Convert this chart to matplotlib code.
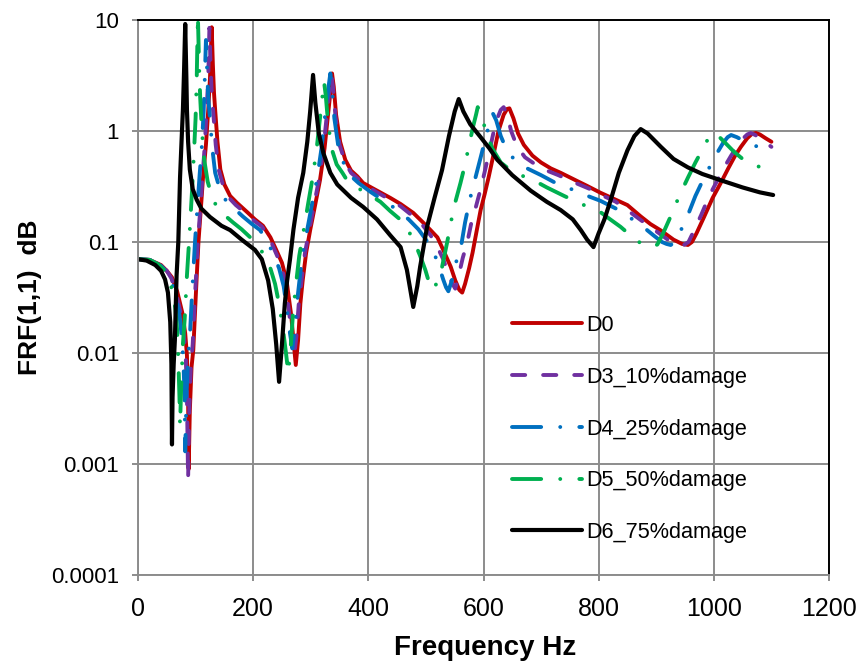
import matplotlib
matplotlib.use('Agg')
import matplotlib.pyplot as plt
from matplotlib.ticker import NullLocator

# (frequency Hz, FRF) pairs
d0 = [(0, 0.070), (20, 0.069), (40, 0.062), (50, 0.055), (59, 0.048), (68, 0.036), (77, 0.023), (82, 0.015),
      (85, 0.0095), (87, 0.004), (88, 0.0009), (90, 0.003), (93, 0.0075), (96, 0.0106), (100, 0.03), (105, 0.1),
      (110, 0.23), (113, 0.385), (118, 0.75), (122, 1.55), (125, 3.0), (128, 8.6), (130, 4.0), (132, 2.2),
      (134, 1.55), (138, 0.8), (143, 0.45), (150, 0.33), (160, 0.26), (172, 0.225), (190, 0.185), (203, 0.16),
      (217, 0.14), (230, 0.11), (240, 0.085), (250, 0.065), (258, 0.045), (266, 0.022), (270, 0.013),
      (274, 0.0078), (278, 0.013), (282, 0.028), (286, 0.045), (292, 0.08), (299, 0.128), (308, 0.22),
      (316, 0.36), (324, 0.7), (330, 1.4), (334, 2.2), (337, 3.3), (340, 2.5), (344, 1.4), (351, 0.8),
      (360, 0.55), (370, 0.44), (381, 0.39), (391, 0.34), (410, 0.3), (438, 0.25), (456, 0.22), (478, 0.183),
      (495, 0.15), (508, 0.128), (520, 0.11), (530, 0.085), (543, 0.06), (551, 0.045), (558, 0.037),
      (563, 0.035), (568, 0.042), (575, 0.058), (581, 0.08), (588, 0.125), (595, 0.194), (602, 0.27),
      (609, 0.385), (617, 0.6), (626, 1.0), (635, 1.4), (641, 1.58), (645, 1.6), (652, 1.3), (660, 0.95),
      (670, 0.75), (685, 0.6), (700, 0.52), (717, 0.46), (734, 0.42), (760, 0.36), (780, 0.32), (803, 0.278),
      (830, 0.24), (850, 0.215), (873, 0.17), (890, 0.145), (908, 0.127), (930, 0.105), (945, 0.096),
      (955, 0.094), (962, 0.1), (970, 0.12), (983, 0.168), (998, 0.25), (1012, 0.34), (1025, 0.46),
      (1037, 0.6), (1047, 0.72), (1058, 0.86), (1066, 0.94), (1073, 0.96), (1080, 0.93), (1090, 0.86),
      (1100, 0.8)]

d3 = [(0, 0.070), (20, 0.069), (40, 0.062), (50, 0.055), (58, 0.047), (66, 0.035), (75, 0.022), (80, 0.014),
      (83, 0.009), (85, 0.004), (87, 0.00072), (89, 0.003), (92, 0.008), (95, 0.012), (99, 0.033), (104, 0.1),
      (109, 0.23), (112, 0.385), (116, 0.75), (119, 1.5), (122, 3.0), (124, 8.5), (126, 4.0), (128, 2.2),
      (131, 1.4), (135, 0.75), (140, 0.45), (148, 0.32), (158, 0.25), (170, 0.215), (188, 0.18), (202, 0.155),
      (215, 0.138), (228, 0.11), (238, 0.083), (248, 0.063), (256, 0.043), (263, 0.022), (267, 0.013),
      (271, 0.0092), (275, 0.014), (279, 0.027), (284, 0.045), (290, 0.08), (297, 0.125), (306, 0.22),
      (314, 0.36), (322, 0.7), (328, 1.4), (332, 2.2), (336, 3.2), (339, 2.4), (343, 1.35), (350, 0.75),
      (360, 0.52), (370, 0.42), (385, 0.36), (410, 0.29), (438, 0.24), (456, 0.21), (478, 0.17), (495, 0.14),
      (508, 0.115), (520, 0.09), (530, 0.07), (540, 0.05), (546, 0.042), (551, 0.038), (557, 0.05),
      (564, 0.072), (572, 0.1), (579, 0.15), (586, 0.2), (595, 0.3), (603, 0.45), (610, 0.65), (617, 0.95),
      (624, 1.3), (630, 1.55), (635, 1.64), (641, 1.4), (648, 1.0), (658, 0.73), (672, 0.58), (690, 0.5),
      (710, 0.44), (730, 0.4), (760, 0.34), (785, 0.3), (803, 0.268), (830, 0.23), (855, 0.185), (875, 0.155),
      (900, 0.125), (920, 0.105), (935, 0.097), (948, 0.094), (956, 0.1), (965, 0.125), (978, 0.175),
      (992, 0.26), (1005, 0.35), (1018, 0.47), (1030, 0.6), (1040, 0.72), (1050, 0.85), (1058, 0.93),
      (1064, 0.96), (1072, 0.92), (1085, 0.82), (1100, 0.72)]

d4 = [(0, 0.070), (20, 0.069), (40, 0.061), (50, 0.054), (58, 0.045), (65, 0.034), (72, 0.022), (76, 0.014),
      (79, 0.008), (81, 0.004), (82, 0.0013), (84, 0.004), (87, 0.009), (90, 0.014), (94, 0.035), (99, 0.1),
      (104, 0.24), (107, 0.4), (111, 0.75), (114, 1.5), (116, 3.0), (118, 6.6), (120, 3.5), (122, 2.0),
      (125, 1.3), (129, 0.7), (134, 0.42), (142, 0.3), (152, 0.24), (165, 0.205), (182, 0.17), (198, 0.145),
      (212, 0.128), (225, 0.1), (235, 0.078), (245, 0.058), (253, 0.04), (260, 0.022), (264, 0.015),
      (268, 0.011), (272, 0.016), (276, 0.028), (281, 0.048), (287, 0.085), (294, 0.13), (303, 0.23),
      (311, 0.37), (319, 0.72), (325, 1.4), (330, 2.3), (334, 3.3), (337, 2.4), (341, 1.3), (348, 0.72),
      (358, 0.5), (368, 0.4), (383, 0.34), (405, 0.28), (430, 0.23), (450, 0.195), (470, 0.16), (487, 0.13),
      (500, 0.105), (512, 0.085), (522, 0.062), (530, 0.046), (535, 0.039), (539, 0.036), (545, 0.045),
      (552, 0.065), (560, 0.085), (568, 0.15), (577, 0.25), (586, 0.38), (594, 0.55), (602, 0.8), (609, 1.1),
      (616, 1.45), (622, 1.25), (630, 0.9), (640, 0.68), (655, 0.54), (676, 0.46), (700, 0.4), (730, 0.33),
      (760, 0.29), (785, 0.255), (803, 0.235), (830, 0.2), (855, 0.165), (875, 0.14), (895, 0.115),
      (910, 0.1), (918, 0.096), (925, 0.094), (933, 0.1), (942, 0.125), (955, 0.175), (968, 0.26),
      (982, 0.37), (995, 0.5), (1007, 0.65), (1016, 0.78), (1024, 0.88), (1030, 0.92), (1040, 0.88),
      (1055, 0.8), (1070, 0.74), (1085, 0.7), (1100, 0.65)]

d5 = [(0, 0.070), (20, 0.069), (35, 0.063), (45, 0.056), (53, 0.047), (60, 0.036), (65, 0.025), (68, 0.016),
      (70, 0.009), (72, 0.004), (73, 0.0022), (75, 0.005), (78, 0.012), (81, 0.02), (85, 0.05), (90, 0.13),
      (94, 0.3), (97, 0.6), (100, 1.3), (102, 3.0), (104, 11.0), (106, 4.0), (108, 2.0), (111, 1.0),
      (115, 0.55), (121, 0.35), (130, 0.24), (142, 0.19), (154, 0.168), (165, 0.15), (180, 0.13), (195, 0.11),
      (210, 0.09), (220, 0.075), (229, 0.06), (238, 0.042), (246, 0.026), (252, 0.016), (257, 0.01),
      (261, 0.0066), (265, 0.011), (269, 0.022), (274, 0.04), (280, 0.075), (288, 0.13), (296, 0.23),
      (304, 0.4), (311, 0.75), (316, 1.3), (320, 2.0), (323, 2.8), (326, 2.1), (330, 1.2), (336, 0.7),
      (345, 0.5), (355, 0.42), (363, 0.36), (380, 0.31), (400, 0.27), (421, 0.23), (438, 0.19), (455, 0.16),
      (467, 0.134), (480, 0.1), (490, 0.075), (499, 0.056), (505, 0.044), (511, 0.037), (516, 0.04),
      (525, 0.05), (537, 0.1), (548, 0.2), (560, 0.34), (568, 0.5), (575, 0.75), (582, 1.1), (587, 1.4),
      (590, 1.64), (596, 1.4), (604, 1.0), (615, 0.7), (630, 0.52), (650, 0.43), (670, 0.39), (687, 0.36),
      (710, 0.31), (740, 0.26), (770, 0.22), (803, 0.186), (820, 0.16), (838, 0.137), (855, 0.115),
      (870, 0.1), (882, 0.093), (894, 0.09), (902, 0.095), (912, 0.12), (925, 0.17), (940, 0.26), (955, 0.38),
      (968, 0.52), (980, 0.68), (990, 0.85), (998, 0.96), (1008, 0.9), (1020, 0.78), (1035, 0.65),
      (1050, 0.56), (1073, 0.49), (1090, 0.45), (1100, 0.43)]

d6 = [(0, 0.070), (15, 0.068), (30, 0.062), (40, 0.055), (47, 0.046), (52, 0.035), (56, 0.019), (58, 0.008),
      (59, 0.0015), (60, 0.004), (62, 0.008), (64, 0.013), (67, 0.05), (70, 0.1), (73, 0.38), (76, 0.9),
      (78, 1.55), (80, 3.5), (82, 9.2), (84, 3.0), (85, 1.55), (87, 0.8), (90, 0.45), (95, 0.3), (102, 0.24),
      (110, 0.2), (125, 0.168), (145, 0.14), (160, 0.128), (180, 0.105), (203, 0.085), (215, 0.07),
      (226, 0.045), (234, 0.025), (240, 0.012), (245, 0.0055), (250, 0.012), (255, 0.028), (259, 0.045),
      (264, 0.07), (270, 0.13), (278, 0.25), (287, 0.42), (294, 0.8), (299, 1.5), (304, 3.2), (308, 1.8),
      (314, 0.95), (322, 0.63), (334, 0.42), (346, 0.33), (370, 0.25), (391, 0.207), (415, 0.16),
      (438, 0.115), (456, 0.09), (467, 0.056), (478, 0.026), (485, 0.04), (490, 0.06), (502, 0.137),
      (515, 0.25), (528, 0.445), (540, 0.9), (550, 1.5), (557, 1.94), (565, 1.5), (577, 1.15), (595, 0.88),
      (610, 0.7), (624, 0.55), (650, 0.4), (682, 0.29), (710, 0.23), (734, 0.194), (755, 0.16), (769, 0.128),
      (780, 0.105), (791, 0.09), (800, 0.12), (810, 0.16), (821, 0.24), (835, 0.42), (850, 0.67), (862, 0.9),
      (873, 1.04), (885, 0.95), (908, 0.72), (930, 0.56), (955, 0.47), (980, 0.41), (1012, 0.36),
      (1050, 0.31), (1080, 0.28), (1103, 0.265)]

series_names = ['D0', 'D3_10%damage', 'D4_25%damage', 'D5_50%damage', 'D6_75%damage']
series_data = [d0, d3, d4, d5, d6]
series_colors = ['#C00000', '#7030A0', '#0070C0', '#00B050', '#000000']

x_ticks = [0, 200, 400, 600, 800, 1000, 1200]
y_ticks = [0.0001, 0.001, 0.01, 0.1, 1, 10]
y_tick_labels = ['0.0001', '0.001', '0.01', '0.1', '1', '10']

# dash patterns (in linewidths), None = solid
series_dashes = [None, (3.4, 4.6), (7.5, 4.9, 0.01, 4.9), (7.5, 4.9, 0.01, 4.9), None]
series_widths = [2.8, 2.8, 2.8, 2.8, 3.0]

GRID = '#8c8c8c'


def main():
    plt.rcParams['font.family'] = ['Liberation Sans', 'DejaVu Sans']
    fig = plt.figure(figsize=(8.58, 6.64), dpi=100)
    ax = fig.add_axes([138 / 858, 1 - 575 / 664, (829 - 138) / 858, (575 - 20) / 664])

    for name, data, color, dash, lw in zip(series_names, series_data, series_colors,
                                           series_dashes, series_widths):
        f = [p[0] for p in data]
        v = [p[1] for p in data]
        line, = ax.plot(f, v, color=color, lw=lw, label=name,
                        solid_capstyle='round', dash_capstyle='round', solid_joinstyle='round')
        if dash is not None:
            line.set_dashes(dash)

    ax.set_yscale('log')
    ax.set_xlim(0, 1200)
    ax.set_ylim(0.0001, 10)
    ax.set_xticks(x_ticks)
    ax.set_yticks(y_ticks)
    ax.set_yticklabels(y_tick_labels)
    ax.yaxis.set_minor_locator(NullLocator())
    ax.grid(True, color=GRID, lw=1.4)
    ax.set_axisbelow(True)

    for s in ['left', 'bottom']:
        ax.spines[s].set_color(GRID)
        ax.spines[s].set_linewidth(1.4)
    for s in ['top', 'right']:
        ax.spines[s].set_color('black')
        ax.spines[s].set_linewidth(1.4)

    ax.tick_params(axis='both', direction='out', length=4.5, width=1.4, color=GRID)
    ax.tick_params(axis='y', labelsize=16, pad=9)
    ax.tick_params(axis='x', labelsize=18, pad=11)

    fig.text(30 / 858, 1 - 297 / 664, 'FRF(1,1)  dB', rotation=90, ha='center', va='center',
             fontsize=19, fontweight='bold')
    fig.text(485 / 858, 1 - 648 / 664, 'Frequency Hz', ha='center', va='center',
             fontsize=20, fontweight='bold')

    ax.legend(loc='upper left', bbox_to_anchor=(512 / 858, 1 - 315 / 664),
              bbox_transform=fig.transFigure, frameon=False, fontsize=15.6,
              handlelength=3.25, handletextpad=0.2, labelspacing=1.42,
              borderpad=0, borderaxespad=0)

    fig.savefig('out.png', dpi=100)


if __name__ == '__main__':
    main()
